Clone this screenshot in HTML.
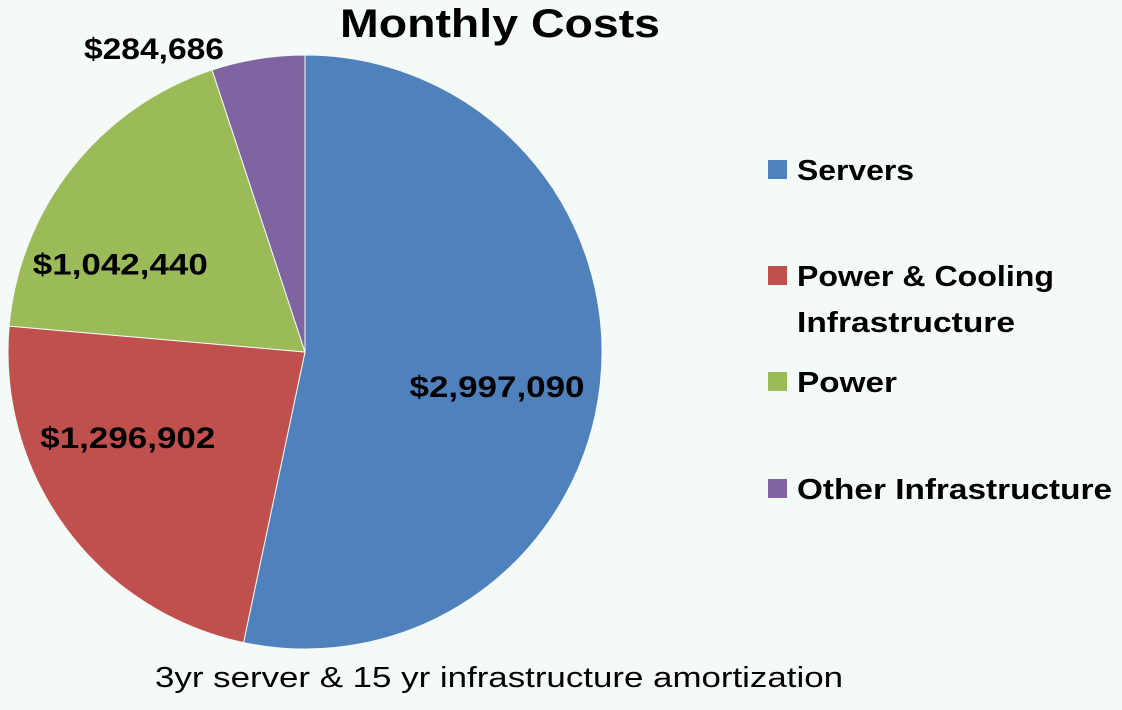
<!DOCTYPE html>
<html><head><meta charset="utf-8"><style>
html,body{margin:0;padding:0;background:#f4faf7;}
svg{display:block;font-family:"Liberation Sans",sans-serif;}
</style></head><body>
<svg id="chart" width="1122" height="710" viewBox="0 0 1122 710">
<rect width="1122" height="710" fill="#f4faf7"/>
<text x="500" y="37" text-anchor="middle" font-size="40" font-weight="bold" textLength="320" lengthAdjust="spacingAndGlyphs">Monthly Costs</text>
<g id="slices"></g>
<g id="labels"></g>
<g id="legend"></g>
<text x="499" y="687" text-anchor="middle" font-size="29" textLength="688" lengthAdjust="spacingAndGlyphs">3yr server &amp; 15 yr infrastructure amortization</text>
</svg>
<script>
const categories = ["Servers", "Power & Cooling Infrastructure", "Power", "Other Infrastructure"];
const values = [2997090, 1296902, 1042440, 284686];
const valueLabels = ["$2,997,090", "$1,296,902", "$1,042,440", "$284,686"];
const colors = ["#4f81bd", "#c0504d", "#9bbb59", "#8064a2"];

const NS = "http://www.w3.org/2000/svg";
const cx = 305, cy = 352, r = 297;
const labelDx = [0, -34, -45, -30];
const labelDy = [14, -21, 22, 0];
const total = values.reduce((a, b) => a + b, 0);
function pt(frac, rad) {
  const a = frac * 2 * Math.PI;
  return [cx + rad * Math.sin(a), cy - rad * Math.cos(a)];
}
const slicesG = document.getElementById("slices");
const labelsG = document.getElementById("labels");
const legendG = document.getElementById("legend");
let acc = 0;
values.forEach((v, i) => {
  const f0 = acc / total, f1 = (acc + v) / total;
  acc += v;
  const [x0, y0] = pt(f0, r), [x1, y1] = pt(f1, r);
  const large = (f1 - f0) > 0.5 ? 1 : 0;
  const p = document.createElementNS(NS, "path");
  p.setAttribute("d", `M${cx},${cy} L${x0},${y0} A${r},${r} 0 ${large} 1 ${x1},${y1} Z`);
  p.setAttribute("fill", colors[i]);
  p.setAttribute("stroke", "#f4faf7");
  p.setAttribute("stroke-width", "1");
  
  
  slicesG.appendChild(p);

  const mid = (f0 + f1) / 2;
  let lx, ly;
  if (v / total < 0.08) { [lx, ly] = pt(mid, r + 25); lx -= 70; ly = 48; }
  else { [lx, ly] = pt(mid, r * (i === 0 ? 0.65 : 0.6)); }
  lx += labelDx[i] || 0; ly += labelDy[i] || 0;
  const t = document.createElementNS(NS, "text");
  t.setAttribute("x", lx);
  t.setAttribute("y", ly + 11);
  t.setAttribute("text-anchor", "middle");
  t.setAttribute("font-size", "30");
  t.setAttribute("font-weight", "bold");
  t.setAttribute("textLength", valueLabels[i].length * 17.5);
  t.setAttribute("lengthAdjust", "spacingAndGlyphs");
  t.textContent = valueLabels[i];
  
  
  labelsG.appendChild(t);
});

const legendY = [169, 275, 381, 488];
categories.forEach((c, i) => {
  const sq = document.createElementNS(NS, "rect");
  sq.setAttribute("x", 768); sq.setAttribute("y", legendY[i] - 9);
  sq.setAttribute("width", 19); sq.setAttribute("height", 19);
  sq.setAttribute("fill", colors[i]);
  
  
  legendG.appendChild(sq);
  const lines = c === "Power & Cooling Infrastructure" ? ["Power & Cooling", "Infrastructure"] : [c];
  lines.forEach((ln, j) => {
    const t = document.createElementNS(NS, "text");
    t.setAttribute("x", 797);
    t.setAttribute("y", legendY[i] + 11 + j * 46);
    t.setAttribute("font-size", "29");
    t.setAttribute("font-weight", "bold");
    const w = {"Servers":117,"Power & Cooling":257,"Infrastructure":218,"Power":100,"Other Infrastructure":315}[ln];
    if (w) { t.setAttribute("textLength", w); t.setAttribute("lengthAdjust", "spacingAndGlyphs"); }
    t.textContent = ln;
    
    
    legendG.appendChild(t);
  });
});
</script>
</body></html>
